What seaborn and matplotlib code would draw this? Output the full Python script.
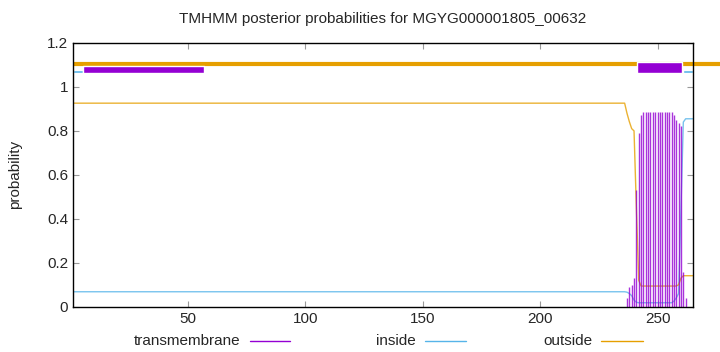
import matplotlib
matplotlib.use("Agg")
import matplotlib.pyplot as plt
from matplotlib.lines import Line2D
import seaborn as sns
import pandas as pd

sns.set_style("ticks")
plt.rcParams['font.family'] = ['Liberation Sans', 'DejaVu Sans']

title = "TMHMM posterior probabilities for MGYG000001805_00632"
seq_len = 265

# posterior curves (breakpoints)
inside_pos = [1, 236, 237, 238, 239, 240, 241, 242, 256, 257, 258, 259, 260, 261, 262, 265]
inside_val = [0.068, 0.068, 0.066, 0.06, 0.05, 0.03, 0.02, 0.018, 0.018, 0.025, 0.04, 0.06, 0.45, 0.84, 0.855, 0.855]
outside_pos = [1, 236, 237, 238, 239, 240, 241, 242, 243, 258, 259, 260, 261, 265]
outside_val = [0.926, 0.926, 0.88, 0.842, 0.81, 0.80, 0.45, 0.12, 0.094, 0.094, 0.10, 0.13, 0.141, 0.141]
tm_pos = [237, 238, 239, 240, 241, 242, 243, 244, 245, 246, 247, 248, 249, 250, 251, 252,
          253, 254, 255, 256, 257, 258, 259, 260, 261, 262]
tm_val = [0.04, 0.09, 0.10, 0.13, 0.53, 0.79, 0.873, 0.888, 0.888, 0.888, 0.888, 0.888, 0.888,
          0.888, 0.888, 0.888, 0.888, 0.888, 0.888, 0.888, 0.87, 0.85, 0.835, 0.82, 0.16, 0.04]

# predicted topology bars at the top: (start, end)
inside_bars = [(1, 5.3), (261, 265)]
tm_bars_low = [(5.3, 56.8)]
tm_bars = [(241.2, 260.4)]
outside_bar = (1, 277)

c_tm = "#9400D3"
c_in = "#56B4E9"
c_out = "#E69F00"

fig = plt.figure(figsize=(7.2, 3.52), dpi=100)
ax = fig.add_axes([0.1014, 0.1287, 0.9621 - 0.1014, 0.878 - 0.1287])

df_in = pd.DataFrame({"pos": inside_pos, "p": inside_val})
df_out = pd.DataFrame({"pos": outside_pos, "p": outside_val})
sns.lineplot(data=df_in, x="pos", y="p", ax=ax, color=c_in, lw=1.0, alpha=0.8)
sns.lineplot(data=df_out, x="pos", y="p", ax=ax, color=c_out, lw=1.0, alpha=0.8)
ax.vlines(tm_pos, 0, tm_val, color=c_tm, lw=1.0, alpha=0.8)

# topology bars
for s, e in inside_bars:
    ax.broken_barh([(s, e - s)], (1.062, 0.013), facecolors=c_in, clip_on=False)
ax.plot([outside_bar[0], outside_bar[1]], [1.106, 1.106], color=c_out, lw=3.0,
        solid_capstyle="butt", clip_on=False)
for s, e in tm_bars_low:
    ax.broken_barh([(s, e - s)], (1.062, 0.035), facecolors=c_tm, zorder=3)
for s, e in tm_bars:
    ax.broken_barh([(s, e - s)], (1.062, 0.050), facecolors=c_tm, zorder=3)

ax.set_xlim(1, seq_len)
ax.set_ylim(0, 1.2)
ax.set_xticks([50, 100, 150, 200, 250])
ax.set_yticks([0, 0.2, 0.4, 0.6, 0.8, 1.0, 1.2])
ax.set_yticklabels(["0", "0.2", "0.4", "0.6", "0.8", "1", "1.2"])
ax.tick_params(direction="in", top=True, right=True, labelsize=11, length=4, color="#999999")
for sp in ax.spines.values():
    sp.set_visible(True)
    sp.set_color("black")
    sp.set_linewidth(1.0)
ax.set_xlabel("")
ax.set_ylabel("probability", fontsize=11, labelpad=18)
fig.text(0.532, 0.945, title, ha="center", va="center", fontsize=11)

# legend below
leg = [("transmembrane", c_tm, 240 / 720, 250 / 720, 290 / 720),
       ("inside", c_in, 416 / 720, 425 / 720, 466 / 720),
       ("outside", c_out, 593 / 720, 601 / 720, 643 / 720)]
ly = 1 - 341 / 352
for lab, col, tx, x0, x1 in leg:
    fig.text(tx, ly, lab, ha="right", va="center", fontsize=11)
    fig.add_artist(Line2D([x0, x1], [ly, ly], color=col, lw=1.0, transform=fig.transFigure))

fig.savefig("out.png", dpi=100)
